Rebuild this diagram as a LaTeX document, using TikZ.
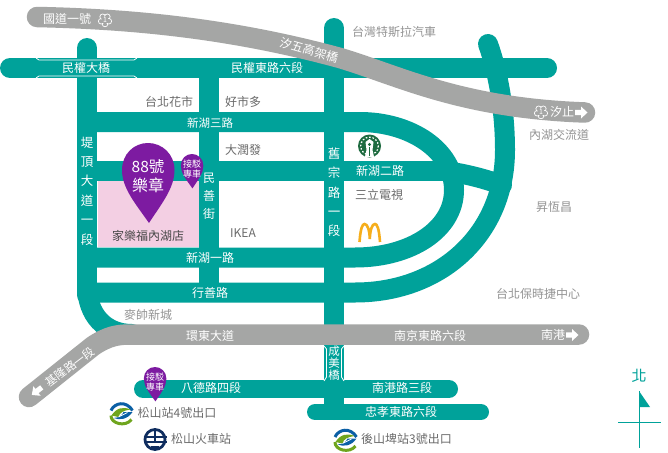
\documentclass[tikz,border=0pt]{standalone}
\usepackage{fontspec}
\setmainfont{Noto Sans CJK TC}
\definecolor{teal1}{HTML}{00A29A}
\definecolor{gray1}{HTML}{A5A6A5}
\definecolor{purp}{HTML}{7D1BA1}
\definecolor{pinkb}{HTML}{F3CFE3}
\definecolor{navy}{HTML}{0F2D5F}
\definecolor{mblue}{HTML}{0B5FA5}
\definecolor{mgreen}{HTML}{6FA51E}
\definecolor{sbux}{HTML}{1E6B40}
\definecolor{mcd}{HTML}{F6AE1C}
\newcommand{\fz}[1]{\fontsize{#1}{#1}\selectfont}
\newcommand{\pinshape}[3]{% x of centre, y of top, scale
  \begin{scope}[shift={(#1,#2)},scale=#3]
    \fill[purp] (1,80) .. controls (-13,60) and (-26,45) .. (-26,27)
      .. controls (-26,11) and (-14,0) .. (0,0)
      .. controls (14,0) and (26.5,11) .. (26.5,27)
      .. controls (26.5,45) and (14,60) .. (1,80) -- cycle;
  \end{scope}}
\newcommand{\flowericon}[2]{%
  \begin{scope}[shift={(#1,#2)}]
    \foreach \a in {90,162,234,306,18}
      \filldraw[draw=white,fill=gray1,line width=.7pt] (\a:4) circle[radius=2.8];
    \fill[gray1] (0,0) circle[radius=3.6];
    \node[text=white,inner sep=0,font=\fz{7}] at (0,0) {1};
  \end{scope}}
\newcommand{\arrowicon}[3]{%
  \begin{scope}[shift={(#1,#2)},rotate=#3]
    \fill[white] (-6,-2.6) -- (0,-2.6) -- (0,-6) -- (6.5,0) -- (0,6) -- (0,2.6) -- (-6,2.6) -- cycle;
  \end{scope}}
\newcommand{\metrologo}[2]{%
  \begin{scope}[shift={(#1,#2)}]
    \draw[mblue,line width=3pt] (-10.5,-3) .. controls (-7,-11) and (5,-13) .. (11,-3);
    \draw[mgreen,line width=3pt] (-10.5,2) .. controls (-11,10) and (4,14) .. (10,6);
    \fill[mgreen] (-10,2) .. controls (-5,-6) and (2,-7) .. (9,-4) .. controls (2,-3) and (-2,-1) .. (-3,3.5) -- cycle;
    \fill[mblue] (11,-1.5) .. controls (6,6) and (-2,7) .. (-8,4.5) .. controls (-2,4.5) and (1,1) .. (2,-1.5) -- cycle;
    \draw[white,line width=.7pt] (-3,3.5) -- (6,-1);
  \end{scope}}
\tikzset{
  road/.style={draw=teal1,line width=20pt,line cap=round},
  groad/.style={draw=gray1,line width=20.5pt,line cap=round},
  rl/.style={text=white,inner sep=0,font=\fz{12}},
  vl/.style={text=white,inner sep=0,align=center,font=\fontsize{12.5}{19.4}\selectfont},
  pl/.style={text=black!58,inner sep=0,font=\fz{12}},
  ll/.style={text=black!42,inner sep=0,font=\fz{12}},
  pinl/.style={text=white,inner sep=0,align=center},
  brk/.style={draw=white,line width=.8pt}
}
\begin{document}
\begin{tikzpicture}[x=1pt,y=-1pt]
\useasboundingbox (0,0) rectangle (668,452);
\fill[white] (0,0) rectangle (668,452);
% teal roads
\draw[road] (10,68) -- (547,68);
\draw[road] (87,48) -- (87,295);
\draw[road] (87,285) .. controls (87,315) and (105,334) .. (132,334);
\draw[road] (209,68) -- (209,292);
\draw[road] (334,28) -- (334,410);
\draw[road] (87,122) -- (360,122) .. controls (410,122) and (454,150) .. (454,190)
   .. controls (454,230) and (410,257.5) .. (355,257.5) -- (87,257.5);
\draw[road] (87,170.5) -- (450,170.5);
\draw[road] (87,292.5) -- (355,292.5) .. controls (440,292.5) and (505,235) .. (505,150)
   .. controls (505,110) and (498,72) .. (488,44);
\draw[road] (452,172) .. controls (470,175) and (485,179) .. (502,185);
\draw[draw=teal1,line width=18pt,line cap=round] (143,389) -- (449,389);
\draw[draw=teal1,line width=16pt,line cap=round] (315,412) -- (481,412);
% bridge marks
\draw[brk] (36,58) -- (39,60) -- (134,60) -- (137,58);
\draw[brk] (36,78) -- (39,76) -- (134,76) -- (137,78);
\draw[brk] (324,346) -- (326.5,349) -- (326.5,377) -- (324,381);
\draw[brk] (344,346) -- (341.5,349) -- (341.5,377) -- (344,381);
% store block
\fill[pinkb] (98,181) rectangle (199,247);
% grey expressways
\draw[groad] (37,17) .. controls (130,19) and (230,28) .. (340,58)
   .. controls (400,76) and (460,108) .. (585,112.5);
\draw[groad] (29,397) -- (93,346) .. controls (108,336) and (118,334.5) .. (130,334.5) -- (579,334.5);
% pins
\pinshape{148}{143}{1}
\pinshape{192}{154}{.43}
\pinshape{155}{367}{.43}
\node[pinl,font=\fz{15.5}] (pa) at (148,167) {88號};
\node[pinl,font=\fz{16}] (pb) at (148,185) {樂章};
\node[pinl,font=\fz{9}] (pc) at (192,164) {接駁};
\node[pinl,font=\fz{9}] (pd) at (192,174.5) {專車};
\node[pinl,font=\fz{9}] (pe) at (155,377) {接駁};
\node[pinl,font=\fz{9}] (pf) at (155,387.5) {專車};
% road labels
\node[rl] (t1) at (67,19) {國道一號};
\node[rl] (t2) at (86,68) {民權大橋};
\node[rl] (t3) at (267,68) {民權東路六段};
\node[rl,font=\fz{11.5}] (t4) at (210,123) {新湖三路};
\node[rl] (t5) at (380,171) {新湖二路};
\node[rl] (t6) at (210,258) {新湖一路};
\node[rl] (t7) at (210,293) {行善路};
\node[rl] (t8) at (210,336) {環東大道};
\node[rl] (t9) at (430,336) {南京東路六段};
\node[rl] (t10) at (553,335) {南港};
\node[rl] (t11) at (211,388) {八德路四段};
\node[rl] (t12) at (402,388) {南港路三段};
\node[rl] (t13) at (401,412) {忠孝東路六段};
\node[rl] (t14) at (562,112) {汐止};
\node[rl,rotate=-16] (t15) at (309,50) {汐五高架橋};
\node[rl,rotate=37,font=\fz{11.5}] (t16) at (70,367) {基隆路一段};
\node[vl,anchor=north] (v1) at (87,136.5) {堤\\頂\\大\\道\\一\\段};
\node[vl,anchor=north] (v2) at (334,147.5) {舊\\宗\\路\\一\\段};
\node[vl,anchor=north,font=\fontsize{12}{18}\selectfont] (v3) at (209,173) {民\\善\\街};
\node[vl,anchor=north,font=\fontsize{11.5}{12}\selectfont] (v4) at (334,346) {成\\美\\橋};
% landmark labels
\node[pl] (l1) at (169,102) {台北花市};
\node[pl] (l2) at (243,102) {好市多};
\node[pl] (l3) at (243,150) {大潤發};
\node[pl] (l4) at (379,195) {三立電視};
\node[pl] (l5) at (243,233) {IKEA};
\node[text=black!72,inner sep=0,font=\fz{12}] (l6) at (148,236) {家樂福內湖店};
\node[ll] (l7) at (148,315) {麥帥新城};
\node[ll] (l8) at (394,32) {台灣特斯拉汽車};
\node[ll] (l9) at (559,135) {內湖交流道};
\node[ll] (l10) at (554,207) {昇恆昌};
\node[ll] (l11) at (538,294) {台北保時捷中心};
\node[pl] (l12) at (177,413) {松山站4號出口};
\node[pl] (l13) at (201,439) {松山火車站};
\node[pl] (l14) at (406.5,439) {後山埤站3號出口};
% icons on the expressways
\flowericon{105}{20}
\flowericon{541}{112}
\arrowicon{581}{112.5}{0}
\arrowicon{572}{335}{0}
\arrowicon{37}{391}{217}
% logos
\metrologo{121.5}{413.5}
\metrologo{345.5}{440}
\begin{scope}[shift={(155,439.5)}]
  \draw[navy,line width=2.8pt] (0,0) circle[radius=10];
  \draw[navy,line width=2pt] (-11.5,-3) -- (11.5,-3);
  \draw[navy,line width=2pt] (-11.5,2.5) -- (11.5,2.5);
  \draw[navy,line width=2pt] (0,-9) -- (0,3);
  \draw[navy,line width=2pt] (-4,7) -- (4,7);
\end{scope}
\begin{scope}[shift={(369.5,146)}]
  \fill[sbux] (0,0) circle[radius=11.5];
  \draw[white,line width=1.2pt,dash pattern=on 1.6pt off 1.8pt] (0,0) circle[radius=8.8];
  \fill[white] (-4,-4) -- (0,-7) -- (4,-4) -- (3,4) -- (4.5,10.8) -- (-4.5,10.8) -- (-3,4) -- cycle;
  \fill[sbux] (0,-1.5) circle[radius=1.6];
  \draw[sbux,line width=.7pt] (0,1) -- (0,10);
\end{scope}
\draw[mcd,line width=2.6pt] (359.5,242) .. controls (360.5,228) and (362.5,224) .. (364.5,224)
  .. controls (367.5,224) and (369.5,230) .. (369.8,239)
  .. controls (370.1,230) and (372,224) .. (375,224)
  .. controls (377,224) and (379,228) .. (380,242);
% north sign
\node[text=teal1,inner sep=0,font=\fz{15}] (north) at (639,376) {北};
\draw[teal1,line width=1pt] (618,422) -- (661,422);
\draw[teal1,line width=1pt] (639,391) -- (639,448);
\fill[teal1] (639,391) -- (650,407) -- (639,407) -- cycle;
\end{tikzpicture}
\end{document}
